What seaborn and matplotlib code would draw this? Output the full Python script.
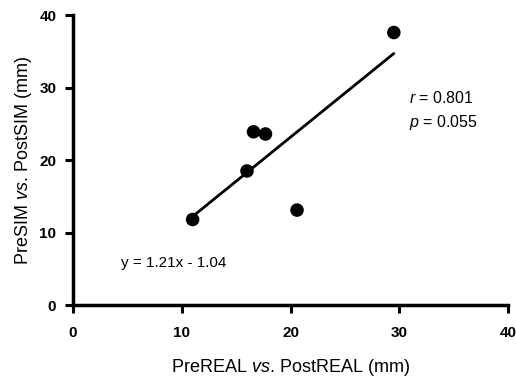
import numpy as np
import pandas as pd
import seaborn as sns
import matplotlib
matplotlib.use("Agg")
import matplotlib.pyplot as plt

# values
pre_real_post_real = [11.0, 16.0, 16.6, 17.7, 20.6, 29.5]
pre_sim_post_sim = [11.8, 18.5, 23.9, 23.6, 13.1, 37.6]
ticks = [0, 10, 20, 30, 40]
fit_label = "y = 1.21x - 1.04"
r_value = "0.801"
p_value = "0.055"

df = pd.DataFrame({"real": pre_real_post_real, "sim": pre_sim_post_sim})

sns.set_style("ticks")
plt.rcParams["font.family"] = ["Liberation Sans", "DejaVu Sans"]
plt.rcParams["mathtext.fontset"] = "custom"
plt.rcParams["mathtext.rm"] = "Liberation Sans"
plt.rcParams["mathtext.it"] = "Liberation Sans:italic"
plt.rcParams["text.color"] = "black"
plt.rcParams["axes.labelcolor"] = "black"

fig = plt.figure(figsize=(5.16, 3.78), dpi=100)
ax = fig.add_axes([0.1415, 0.193, 0.843, 0.767])

sns.regplot(data=df, x="real", y="sim", ax=ax, ci=None,
            scatter_kws={"s": 95, "color": "black", "edgecolor": "none", "alpha": 1, "zorder": 3},
            line_kws={"color": "black", "linewidth": 2})

ax.set_xlim(0, 40)
ax.set_ylim(0, 40)
ax.set_xticks(ticks)
ax.set_yticks(ticks)
ax.set_xticklabels([str(t) for t in ticks], fontweight="bold", fontsize=11)
ax.set_yticklabels([str(t) for t in ticks], fontweight="bold", fontsize=11)
ax.tick_params(axis="x", direction="out", length=6, width=2.2, pad=9, colors="black")
ax.tick_params(axis="y", direction="out", length=6, width=2.2, pad=6, colors="black")
for side in ["left", "bottom"]:
    ax.spines[side].set_linewidth(2.5)
    ax.spines[side].set_color("black")
sns.despine(ax=ax)

ax.set_xlabel(r"PreREAL $\it{vs.}\,$PostREAL (mm)", fontsize=13, labelpad=12)
ax.set_ylabel(r"PreSIM $\it{vs.}\,$PostSIM (mm)", fontsize=13, labelpad=4)

ax.text(4.4, 5.8, fit_label, fontsize=11, va="center", ha="left")
ax.text(30.9, 28.5, rf"$\it{{r}}$ = {r_value}", fontsize=11.5, va="center", ha="left")
ax.text(30.9, 25.2, rf"$\it{{p}}$ = {p_value}", fontsize=11.5, va="center", ha="left")

fig.savefig("out.png", dpi=100)
